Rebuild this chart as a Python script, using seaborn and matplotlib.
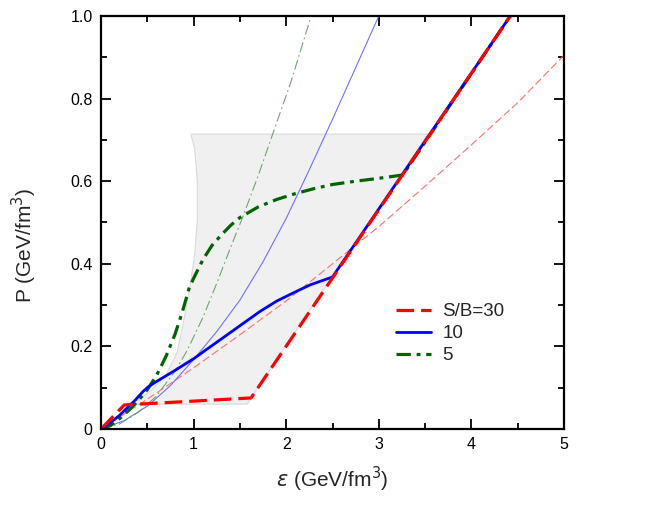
import numpy as np
import pandas as pd
import matplotlib
matplotlib.use("Agg")
import matplotlib.pyplot as plt
from matplotlib.ticker import MultipleLocator, FuncFormatter
import seaborn as sns

sns.set_theme(style="white")
plt.rcParams['font.family'] = ['Liberation Sans', 'DejaVu Sans']
plt.rcParams['mathtext.fontset'] = 'dejavusans'

# ---- data ----
# thick curves: S/B = 30, 10, 5
eps_sb30 = [0.0, 0.25, 1.62, 4.42]
p_sb30 = [0.0, 0.058, 0.075, 1.0]

eps_sb10 = [0.0, 0.1, 0.2, 0.3, 0.37, 0.45, 0.51, 0.6, 0.8, 1.0, 1.13, 1.3, 1.5,
            1.72, 1.9, 2.1, 2.26, 2.5, 4.42]
p_sb10 = [0.0, 0.015, 0.033, 0.055, 0.07, 0.09, 0.102, 0.115, 0.142, 0.17, 0.191,
          0.218, 0.25, 0.285, 0.31, 0.332, 0.349, 0.368, 1.0]

eps_sb5 = [0.0, 0.1, 0.2, 0.3, 0.4, 0.5, 0.6, 0.7, 0.8, 0.88, 0.95, 0.97, 1.0, 1.1,
           1.2, 1.3, 1.4, 1.5, 1.7, 1.9, 2.1, 2.3, 2.5, 2.75, 3.0, 3.26, 4.42]
p_sb5 = [0.0, 0.008, 0.025, 0.045, 0.068, 0.095, 0.13, 0.175, 0.23, 0.285, 0.34, 0.35,
         0.365, 0.41, 0.445, 0.47, 0.493, 0.512, 0.538, 0.556, 0.57, 0.582, 0.592,
         0.6, 0.607, 0.615, 1.0]

# thin curves
eps_thin30 = [0.0, 0.5, 1.0, 1.5, 2.0, 2.5, 3.0, 3.5, 4.0, 4.5, 5.0]
p_thin30 = [0.0, 0.072, 0.148, 0.228, 0.31, 0.40, 0.49, 0.588, 0.688, 0.79, 0.905]

eps_thin10 = [0.0, 0.25, 0.5, 0.75, 1.0, 1.25, 1.5, 1.75, 2.0, 2.25, 2.5, 2.75, 3.0]
p_thin10 = [0.0, 0.02, 0.055, 0.105, 0.168, 0.236, 0.312, 0.405, 0.51, 0.628, 0.75, 0.875, 1.0]

eps_thin5 = [0.0, 0.2, 0.4, 0.6, 0.8, 0.93, 1.1, 1.25, 1.4, 1.53, 1.7, 1.88, 2.05, 2.27]
p_thin5 = [0.0, 0.012, 0.04, 0.08, 0.14, 0.19, 0.27, 0.353, 0.44, 0.513, 0.615, 0.731, 0.84, 1.0]

# shaded region outline
region_eps = [0.97, 3.53, 1.62, 1.58, 0.28, 0.4, 0.55, 0.7, 0.82, 0.9, 0.96,
              1.01, 1.04, 1.04, 1.01, 0.97]
region_p = [0.714, 0.714, 0.075, 0.06, 0.06, 0.07, 0.095, 0.13, 0.184, 0.27, 0.344,
            0.42, 0.506, 0.6, 0.68, 0.714]

legend_labels = ["S/B=30", "10", "5"]

# ---- figure ----
fig = plt.figure(figsize=(6.65, 5.18), dpi=100)
ax = fig.add_axes([0.152, 0.172, 0.696, 0.797])

ax.fill(region_eps, region_p, facecolor="#f0f0f0", edgecolor="#d9d9d9", lw=0.8, zorder=0)

def draw(x, y, **kw):
    df = pd.DataFrame({"x": x, "y": y})
    sns.lineplot(data=df, x="x", y="y", ax=ax, sort=False, estimator=None, **kw)

# thin reference curves
draw(eps_thin30, p_thin30, color="#ff7070", lw=0.8, dashes=(7, 3))
draw(eps_thin10, p_thin10, color="#7070ff", lw=0.8)
draw(eps_thin5, p_thin5, color="#6aa86a", lw=0.8, dashes=(9, 3, 1.5, 3))

# thick curves
draw(eps_sb5, p_sb5, color="#006400", lw=2.3, dashes=(4.5, 1.8, 1.2, 1.8), label=legend_labels[2])
draw(eps_sb10, p_sb10, color="#0000ff", lw=2.0, label=legend_labels[1])
draw(eps_sb30, p_sb30, color="#ff0000", lw=2.3, dashes=(5.5, 2.2), label=legend_labels[0])

ax.set_xlim(0, 5)
ax.set_ylim(0, 1)
ax.xaxis.set_major_locator(MultipleLocator(1))
ax.xaxis.set_minor_locator(MultipleLocator(0.5))
ax.yaxis.set_major_locator(MultipleLocator(0.2))
ax.yaxis.set_minor_locator(MultipleLocator(0.1))
ax.xaxis.set_major_formatter(FuncFormatter(lambda v, p: "%d" % round(v)))
ax.yaxis.set_major_formatter(FuncFormatter(lambda v, p: "0" if abs(v) < 1e-9 else "%.1f" % v))

ax.tick_params(which="both", direction="in", top=True, right=True, bottom=True, left=True,
               width=1.3, colors="black", labelsize=11.5)
ax.tick_params(which="major", length=7, pad=6)
ax.tick_params(which="minor", length=4)
for s in ax.spines.values():
    s.set_linewidth(1.6)
    s.set_color("black")

ax.set_xlabel(r"$\varepsilon$ (GeV/fm$^3$)", fontsize=15, labelpad=9)
ax.set_ylabel(r"P (GeV/fm$^3$)", fontsize=15)
ax.yaxis.set_label_coords(-0.135, 0.445)

handles, labels = ax.get_legend_handles_labels()
order = [labels.index(l) for l in legend_labels]
ax.legend([handles[i] for i in order], [labels[i] for i in order],
          loc="upper left", bbox_to_anchor=(0.6, 0.345), frameon=False,
          fontsize=13.5, handlelength=1.9, handletextpad=0.6, labelspacing=0.25)

fig.savefig("out.png", dpi=100)
